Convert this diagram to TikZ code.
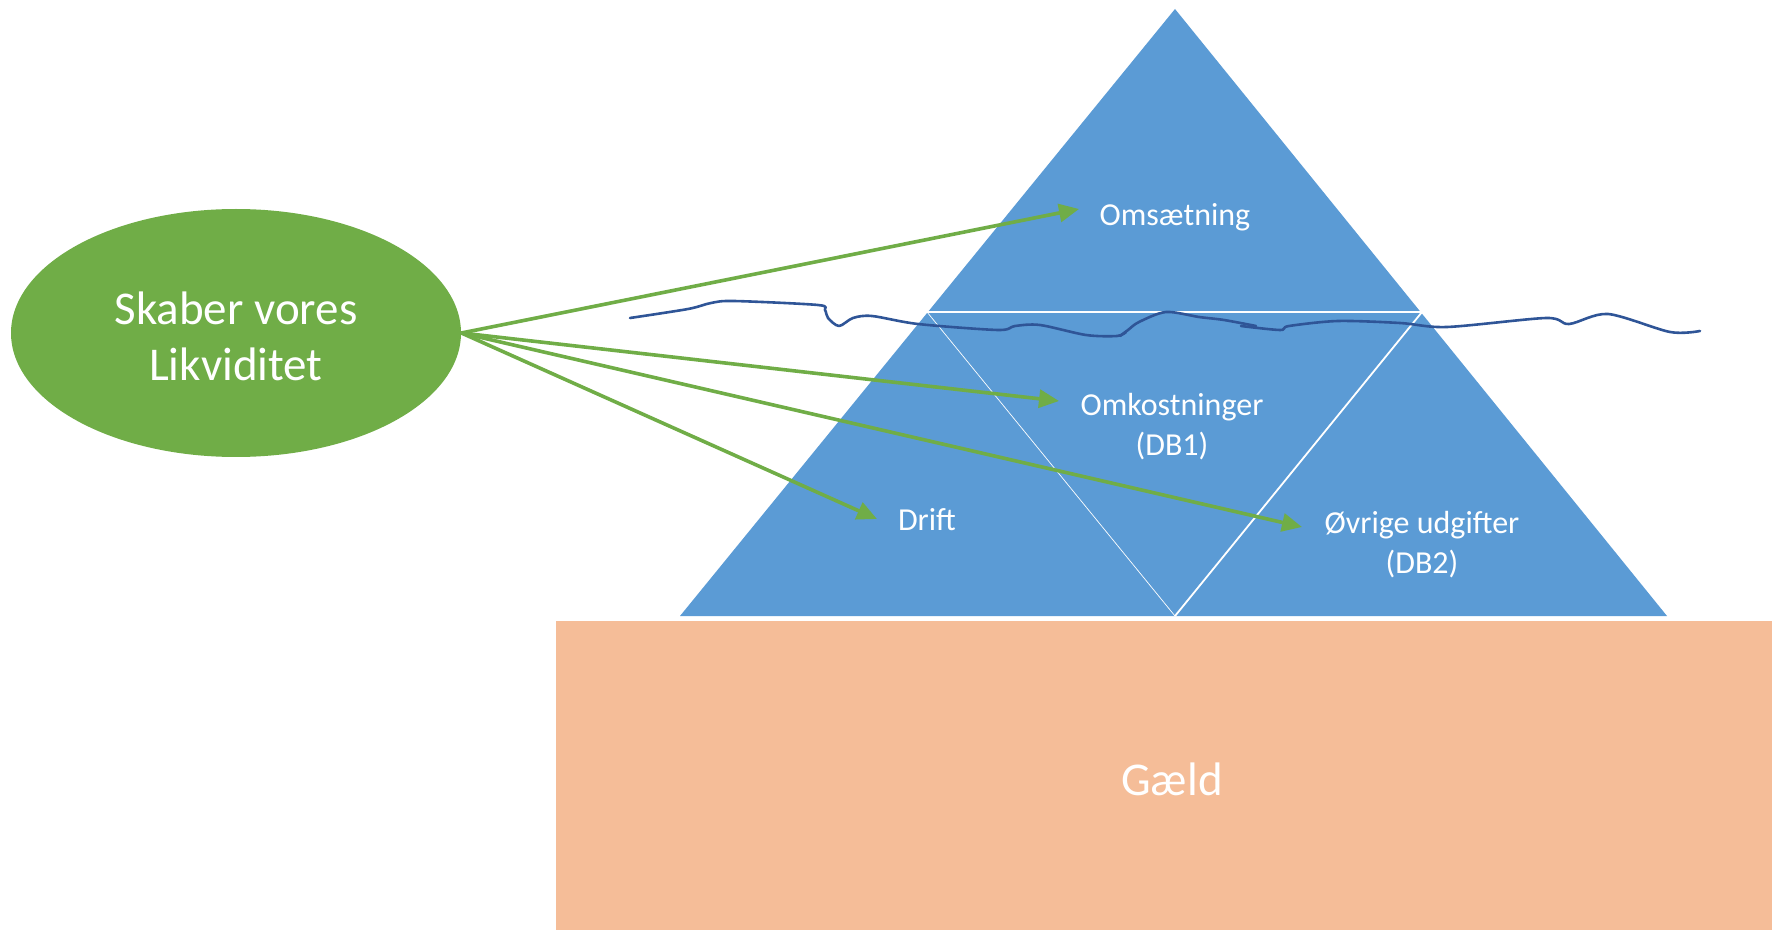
\documentclass[tikz,border=0pt]{standalone}
\usepackage{fontspec}
\setmainfont{Carlito}
\usetikzlibrary{shapes.geometric,arrows.meta}
\definecolor{tblue}{HTML}{5B9BD5}
\definecolor{lgreen}{HTML}{70AD47}
\definecolor{peach}{HTML}{F5BD98}
\definecolor{wave}{HTML}{2F5597}
\tikzset{
  arr/.style={draw=lgreen, line width=1.8pt, -{Triangle[length=10pt,width=9pt]}},
  lbl/.style={text=white, align=center, inner sep=0pt, font=\fontsize{16}{20}\selectfont},
  big/.style={text=white, align=center, inner sep=0pt, font=\fontsize{23.5}{28}\selectfont},
  wavy/.style={draw=wave, line width=1.3pt, line cap=round, line join=round}
}
\begin{document}
\begin{tikzpicture}[x=0.5pt,y=-0.5pt]
\useasboundingbox (0,0) rectangle (1772,930);
% pyramid
\fill[tblue] (1175,9) -- (680,616) -- (1667,616) -- cycle;
\draw[white, line width=1.2pt] (927,312) -- (1422,312);
\draw[white, line width=0.35pt] (927,312) -- (1175,616);
\draw[white, line width=0.9pt] (1422,312) -- (1175,616);
% debt block
\fill[peach] (556,621) rectangle (1772,930);
\node[big] (gaeld) at (1172,779) {Gæld};
% water line
\draw[wavy] plot[smooth, tension=0.5] coordinates {(630,318) (688,309) (711,303) (734,301) (818,305) (825,310) (828,318) (839,326) (853,318) (872,316) (918,324) (998,330) (1015,326) (1040,325) (1086,335) (1117,336) (1126,332)};
\draw[wavy] plot[smooth, tension=0.5] coordinates {(1120,336) (1128,330) (1139,322) (1166,312) (1199,317) (1224,320) (1256,326)};
\draw[wavy] plot[smooth, tension=0.5] coordinates {(1241,326) (1280,330) (1289,326) (1338,321) (1400,323) (1447,327) (1546,318) (1569,324) (1608,314) (1670,332) (1700,331)};
% source
\node[ellipse, fill=lgreen, minimum width=225pt, minimum height=124pt, inner sep=0pt] (src) at (236,333) {};
\node[big] (srctext) at (236,336) {Skaber vores\\Likviditet};
% labels
\node[lbl] (oms) at (1175,217) {Omsætning};
\node[lbl] (omk) at (1172,427) {Omkostninger\\(DB1)};
\node[lbl] (drift) at (927,520) {Drift};
\node[lbl] (ovr) at (1422,545) {Øvrige udgifter\\(DB2)};
% arrow tips
\coordinate (t1) at (1079,209);
\coordinate (t2) at (1059,401);
\coordinate (t3) at (877,519);
\coordinate (t4) at (1302,527);
\draw[arr] (src.east) -- (t1);
\draw[arr] (src.east) -- (t2);
\draw[arr] (src.east) -- (t3);
\draw[arr] (src.east) -- (t4);
\end{tikzpicture}
\end{document}
